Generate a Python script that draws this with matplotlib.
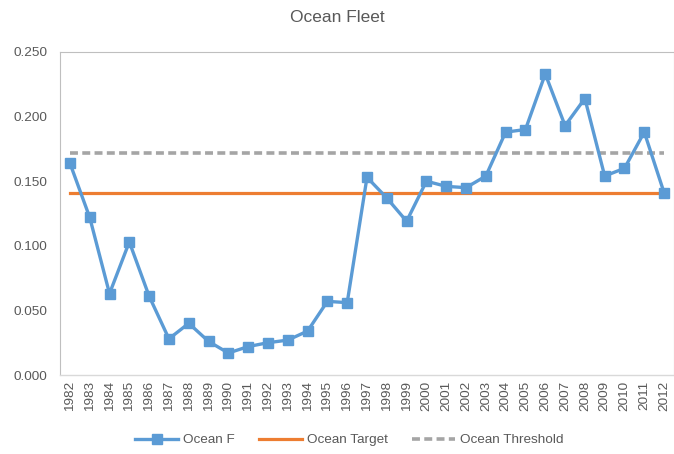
import numpy as np
import matplotlib
matplotlib.use("Agg")
import matplotlib.pyplot as plt

plt.rcParams['font.family'] = ['Liberation Sans', 'DejaVu Sans']

years = [str(y) for y in range(1982, 2013)]
ocean_f = [0.164, 0.122, 0.063, 0.103, 0.061, 0.028, 0.040, 0.026, 0.017, 0.022,
           0.025, 0.027, 0.034, 0.057, 0.056, 0.153, 0.137, 0.119, 0.150, 0.146,
           0.145, 0.154, 0.188, 0.190, 0.233, 0.193, 0.214, 0.154, 0.160, 0.188,
           0.141]
ocean_target = 0.141
ocean_threshold = 0.172

BLUE = '#5B9BD5'
ORANGE = '#ED7D31'
GRAY = '#A5A5A5'
TXT = '#595959'

fig = plt.figure(figsize=(6.74, 4.54), dpi=100)
ax = fig.add_axes([60 / 674, 1 - 375 / 454, 614 / 674, 323 / 454])

x = np.arange(len(years))
ax.plot(x, ocean_f, color=BLUE, lw=2.4, marker='s', markersize=6.5, label='Ocean F', zorder=4)
ax.plot(x, [ocean_target] * len(x), color=ORANGE, lw=2.3, label='Ocean Target', zorder=3)
ax.plot(x, [ocean_threshold] * len(x), color=GRAY, lw=2.6, ls=(0, (2.2, 1.2)),
        label='Ocean Threshold', zorder=2)

ax.set_xlim(-0.5, len(years) - 0.5)
ax.set_ylim(0, 0.25)
ax.set_yticks(np.arange(0, 0.251, 0.05))
ax.set_yticklabels(['%.3f' % v for v in np.arange(0, 0.251, 0.05)])
ax.set_xticks(x)
ax.set_xticklabels(years, rotation=90)
ax.tick_params(axis='both', length=0, colors=TXT, labelsize=9.7)
ax.tick_params(axis='y', pad=9)
ax.tick_params(axis='x', pad=4)

for s in ['top', 'left', 'right']:
    ax.spines[s].set_color('#BFBFBF')
    ax.spines[s].set_linewidth(0.8)
ax.spines['bottom'].set_color('#D9D9D9')
ax.spines['bottom'].set_linewidth(1.0)

fig.text(0.5, 1 - 17 / 454, 'Ocean Fleet', ha='center', va='center', fontsize=12.5, color=TXT)

fig.legend(loc='center', bbox_to_anchor=(349 / 674, 1 - 440 / 454), ncol=3, frameon=False,
           fontsize=9.7, labelcolor=TXT, handlelength=3.2, columnspacing=1.8,
           handletextpad=0.35)

fig.savefig('out.png', dpi=100)
